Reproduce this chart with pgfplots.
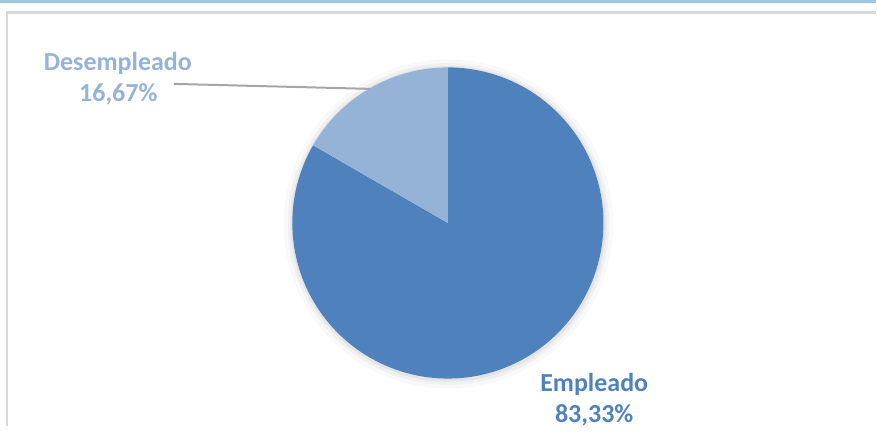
\documentclass[border=0pt]{standalone}
\usepackage{pgfplots}
\pgfplotsset{compat=1.18}
\usepackage{fontspec}
\setmainfont{Carlito}
\definecolor{cEmp}{RGB}{79,129,189}
\definecolor{cDes}{RGB}{149,179,215}
\definecolor{cTop}{RGB}{157,195,230}
\definecolor{cFrame}{RGB}{217,217,217}
\definecolor{cLead}{RGB}{166,166,166}
% values (percent)
\def\vDes{16.67}
\def\vEmp{83.33}
\begin{document}
\begin{tikzpicture}
\begin{axis}[
  scale only axis, width=438.5pt, height=213.5pt,
  xmin=0, xmax=877, ymin=0, ymax=427,
  hide axis, clip=false,
]
\path (axis cs:0,0) rectangle (axis cs:877,427);
% frame
\fill[cTop] (axis cs:0,423.5) rectangle (axis cs:877,427);
\draw[cFrame, line width=1.2pt] (axis cs:7,0) -- (axis cs:7,414.5) -- (axis cs:877,414.5);
% soft shadow
\addplot[draw=black, draw opacity=0.025, line width=7pt, domain=0:360, samples=120, variable=\t]
  ({449+158*cos(\t)},{202.7+158*sin(\t)});
\addplot[draw=black, draw opacity=0.035, line width=4pt, domain=0:360, samples=120, variable=\t]
  ({449+157*cos(\t)},{202.7+157*sin(\t)});
\addplot[draw=black, draw opacity=0.05, line width=2pt, domain=0:360, samples=120, variable=\t]
  ({449+156*cos(\t)},{202.9+156*sin(\t)});
% slices
\pgfmathsetmacro{\aStart}{90}
\pgfmathsetmacro{\aMid}{90+3.6*\vDes}
\pgfmathsetmacro{\aEnd}{\aMid+3.6*\vEmp}
\addplot[fill=cEmp, draw=none, domain=\aMid:\aEnd, samples=150, variable=\t]
  ({448.5+155.8*cos(\t)},{203.7+155.8*sin(\t)}) -- (axis cs:448.5,203.7) -- cycle;
\addplot[fill=cDes, draw=none, domain=\aStart:\aMid, samples=40, variable=\t]
  ({448.5+155.8*cos(\t)},{203.7+155.8*sin(\t)}) -- (axis cs:448.5,203.7) -- cycle;
% leader line
\addplot[cLead, line width=1pt] coordinates {(174,343) (370.7,338)};
% labels
\node[anchor=base, font=\fontsize{13}{15}\selectfont\bfseries, text=cDes] at (axis cs:118,356.3) {Desempleado};
\node[anchor=base, font=\fontsize{13}{15}\selectfont\bfseries, text=cDes] at (axis cs:118.5,325.3) {16,67\%};
\node[anchor=base, font=\fontsize{13}{15}\selectfont\bfseries, text=cEmp] at (axis cs:595,35.3) {Empleado};
\node[anchor=base, font=\fontsize{13}{15}\selectfont\bfseries, text=cEmp] at (axis cs:595,4) {83,33\%};
\end{axis}
\end{tikzpicture}
\end{document}
